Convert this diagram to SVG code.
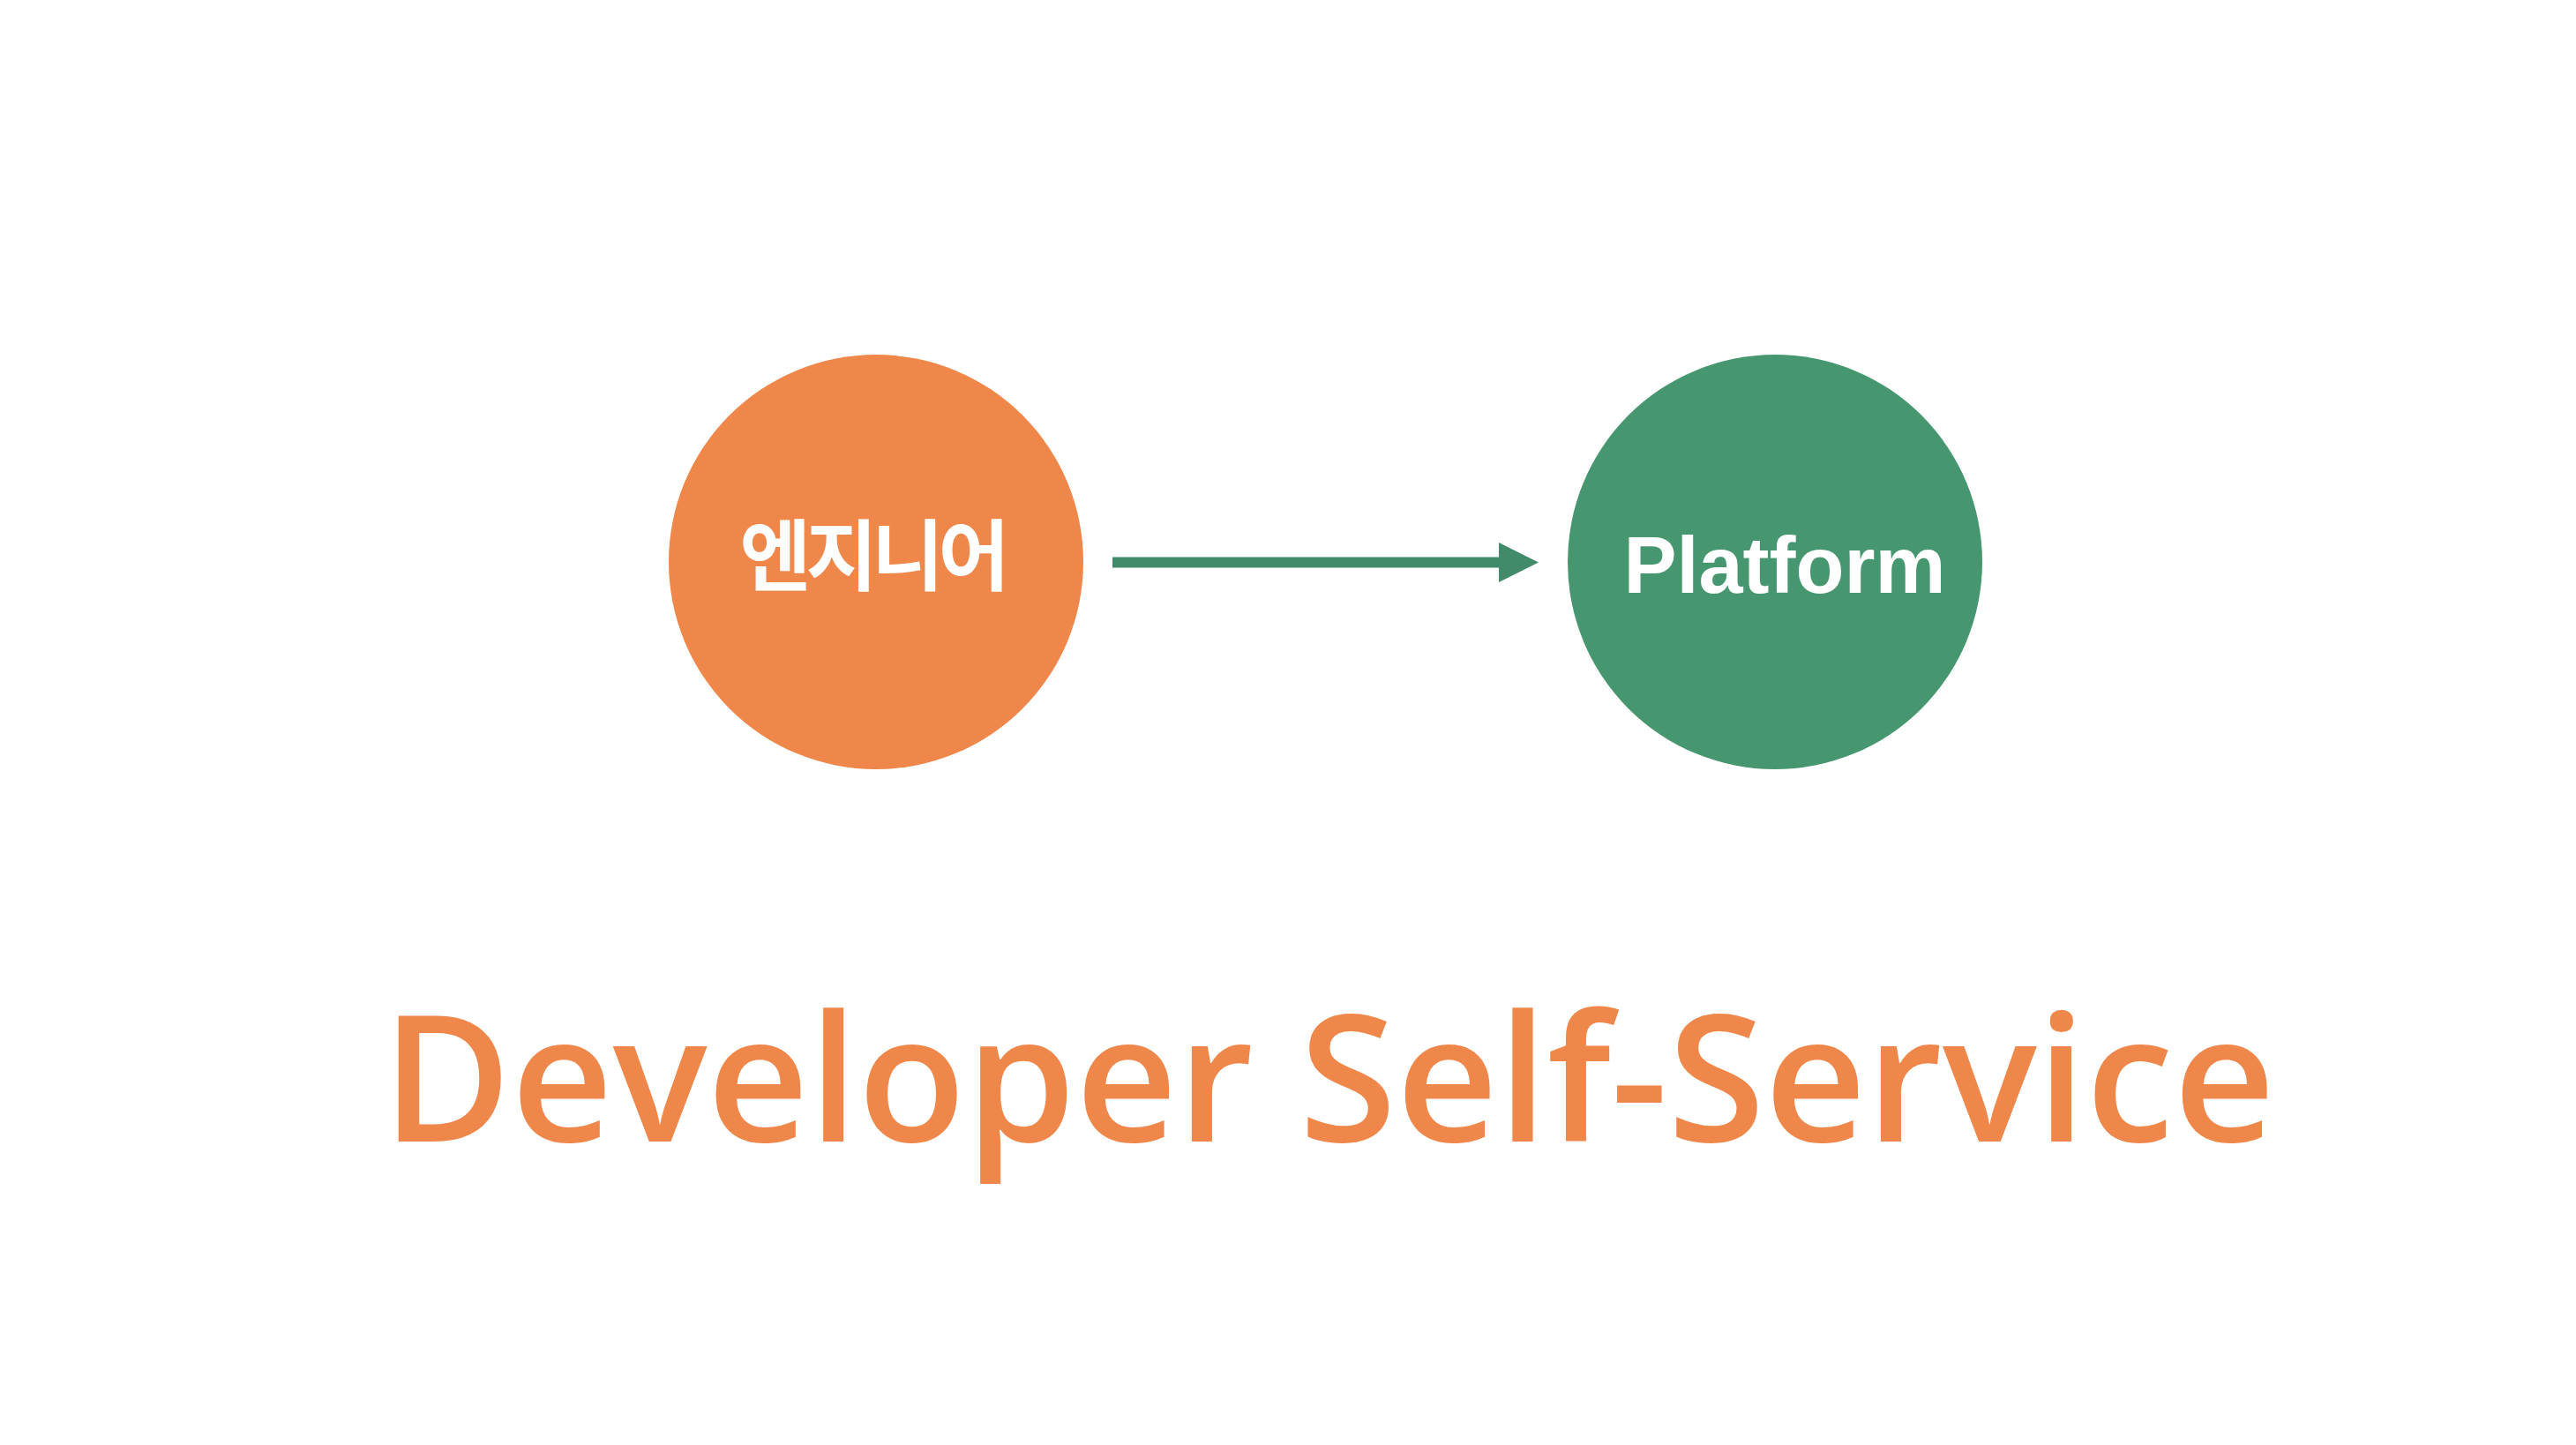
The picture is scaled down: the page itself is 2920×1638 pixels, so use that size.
<svg xmlns="http://www.w3.org/2000/svg" width="2920" height="1638" viewBox="0 0 2920 1638">
<defs>
<style>
.node-label{fill:#ffffff;font-weight:700;}
.ko{font-family:"Noto Sans CJK KR","Noto Sans",sans-serif;font-size:88px;}
.en{font-family:"Liberation Sans",Arial,sans-serif;font-size:90px;}
.title{fill:#F0874A;font-family:"Open Sans","Noto Sans",sans-serif;font-weight:600;font-size:200px;}
</style>
</defs>
<rect width="2920" height="1638" fill="#ffffff"/>
<g id="connectors">
<rect x="1261" y="631.5" width="440" height="12" fill="#418A6A"/>
<polygon points="1699,615 1744,637.5 1699,660" fill="#418A6A"/>
</g>
<g id="node-engineer">
<circle cx="993" cy="637" r="235" fill="#F0874A"/>
<text class="node-label ko" x="988.5" y="662" text-anchor="middle" letter-spacing="-6">엔지니어</text>
</g>
<g id="node-platform">
<circle cx="2012" cy="637" r="235" fill="#46976F"/>
<text class="node-label en" x="2023" y="672" text-anchor="middle">Platform</text>
</g>
<g id="title">
<text class="title" x="1506" y="1294" text-anchor="middle">Developer Self-Service</text>
</g>
</svg>
